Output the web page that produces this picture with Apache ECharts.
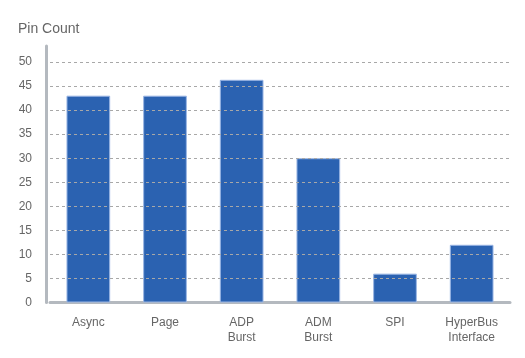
<!DOCTYPE html>
<html>
<head>
<meta charset="utf-8">
<script src="https://cdn.jsdelivr.net/npm/echarts@6/dist/echarts.min.js"></script>
<style>html,body{margin:0;padding:0;background:#fff}#c{width:525px;height:358px}</style>
</head>
<body>
<div id="c"></div>
<script>
const categories = ['Async', 'Page', 'ADP\nBurst', 'ADM\nBurst', 'SPI', 'HyperBus\nInterface'];
const pinCount = [43, 43, 46.3, 30, 6, 12];
const gridValues = [5, 10, 15, 20, 25, 30, 35, 40, 45, 50];
const axisTitle = 'Pin Count';

const FONT = '"Liberation Sans", Arial, sans-serif';
const chart = echarts.init(document.getElementById('c'), null, {renderer: 'canvas'});
chart.setOption({
  animation: false,
  textStyle: {fontFamily: FONT},
  title: {
    text: axisTitle, left: 13, top: 17,
    textStyle: {fontSize: 14, fontWeight: 'normal', color: '#666', fontFamily: FONT}
  },
  grid: {left: 50, right: 15, top: 46, bottom: 55.5, containLabel: false},
  xAxis: {
    type: 'category', data: categories,
    axisLine: {lineStyle: {color: '#b4b9bf', width: 3}},
    axisTick: {show: false},
    axisLabel: {color: '#666', fontSize: 12, margin: 13, lineHeight: 15, fontFamily: FONT}
  },
  yAxis: {
    type: 'value', min: 0, max: 53.33, interval: 5, offset: 4,
    axisLine: {show: true, lineStyle: {color: '#b4b9bf', width: 3}},
    axisTick: {show: false},
    splitLine: {show: false},
    axisLabel: {color: '#666', fontSize: 12, margin: 14, showMaxLabel: false, fontFamily: FONT}
  },
  series: [{
    type: 'bar', data: pinCount, barWidth: '57%',
    itemStyle: {color: '#2b62b1', borderColor: '#9ab6e4', borderWidth: 1},
    markLine: {
      silent: true, symbol: 'none', animation: false,
      label: {show: false},
      lineStyle: {color: '#a8a8a8', type: [3, 3], width: 1},
      data: gridValues.map(v => ({yAxis: v}))
    },
    z: 3
  }]
});
</script>
</body>
</html>
